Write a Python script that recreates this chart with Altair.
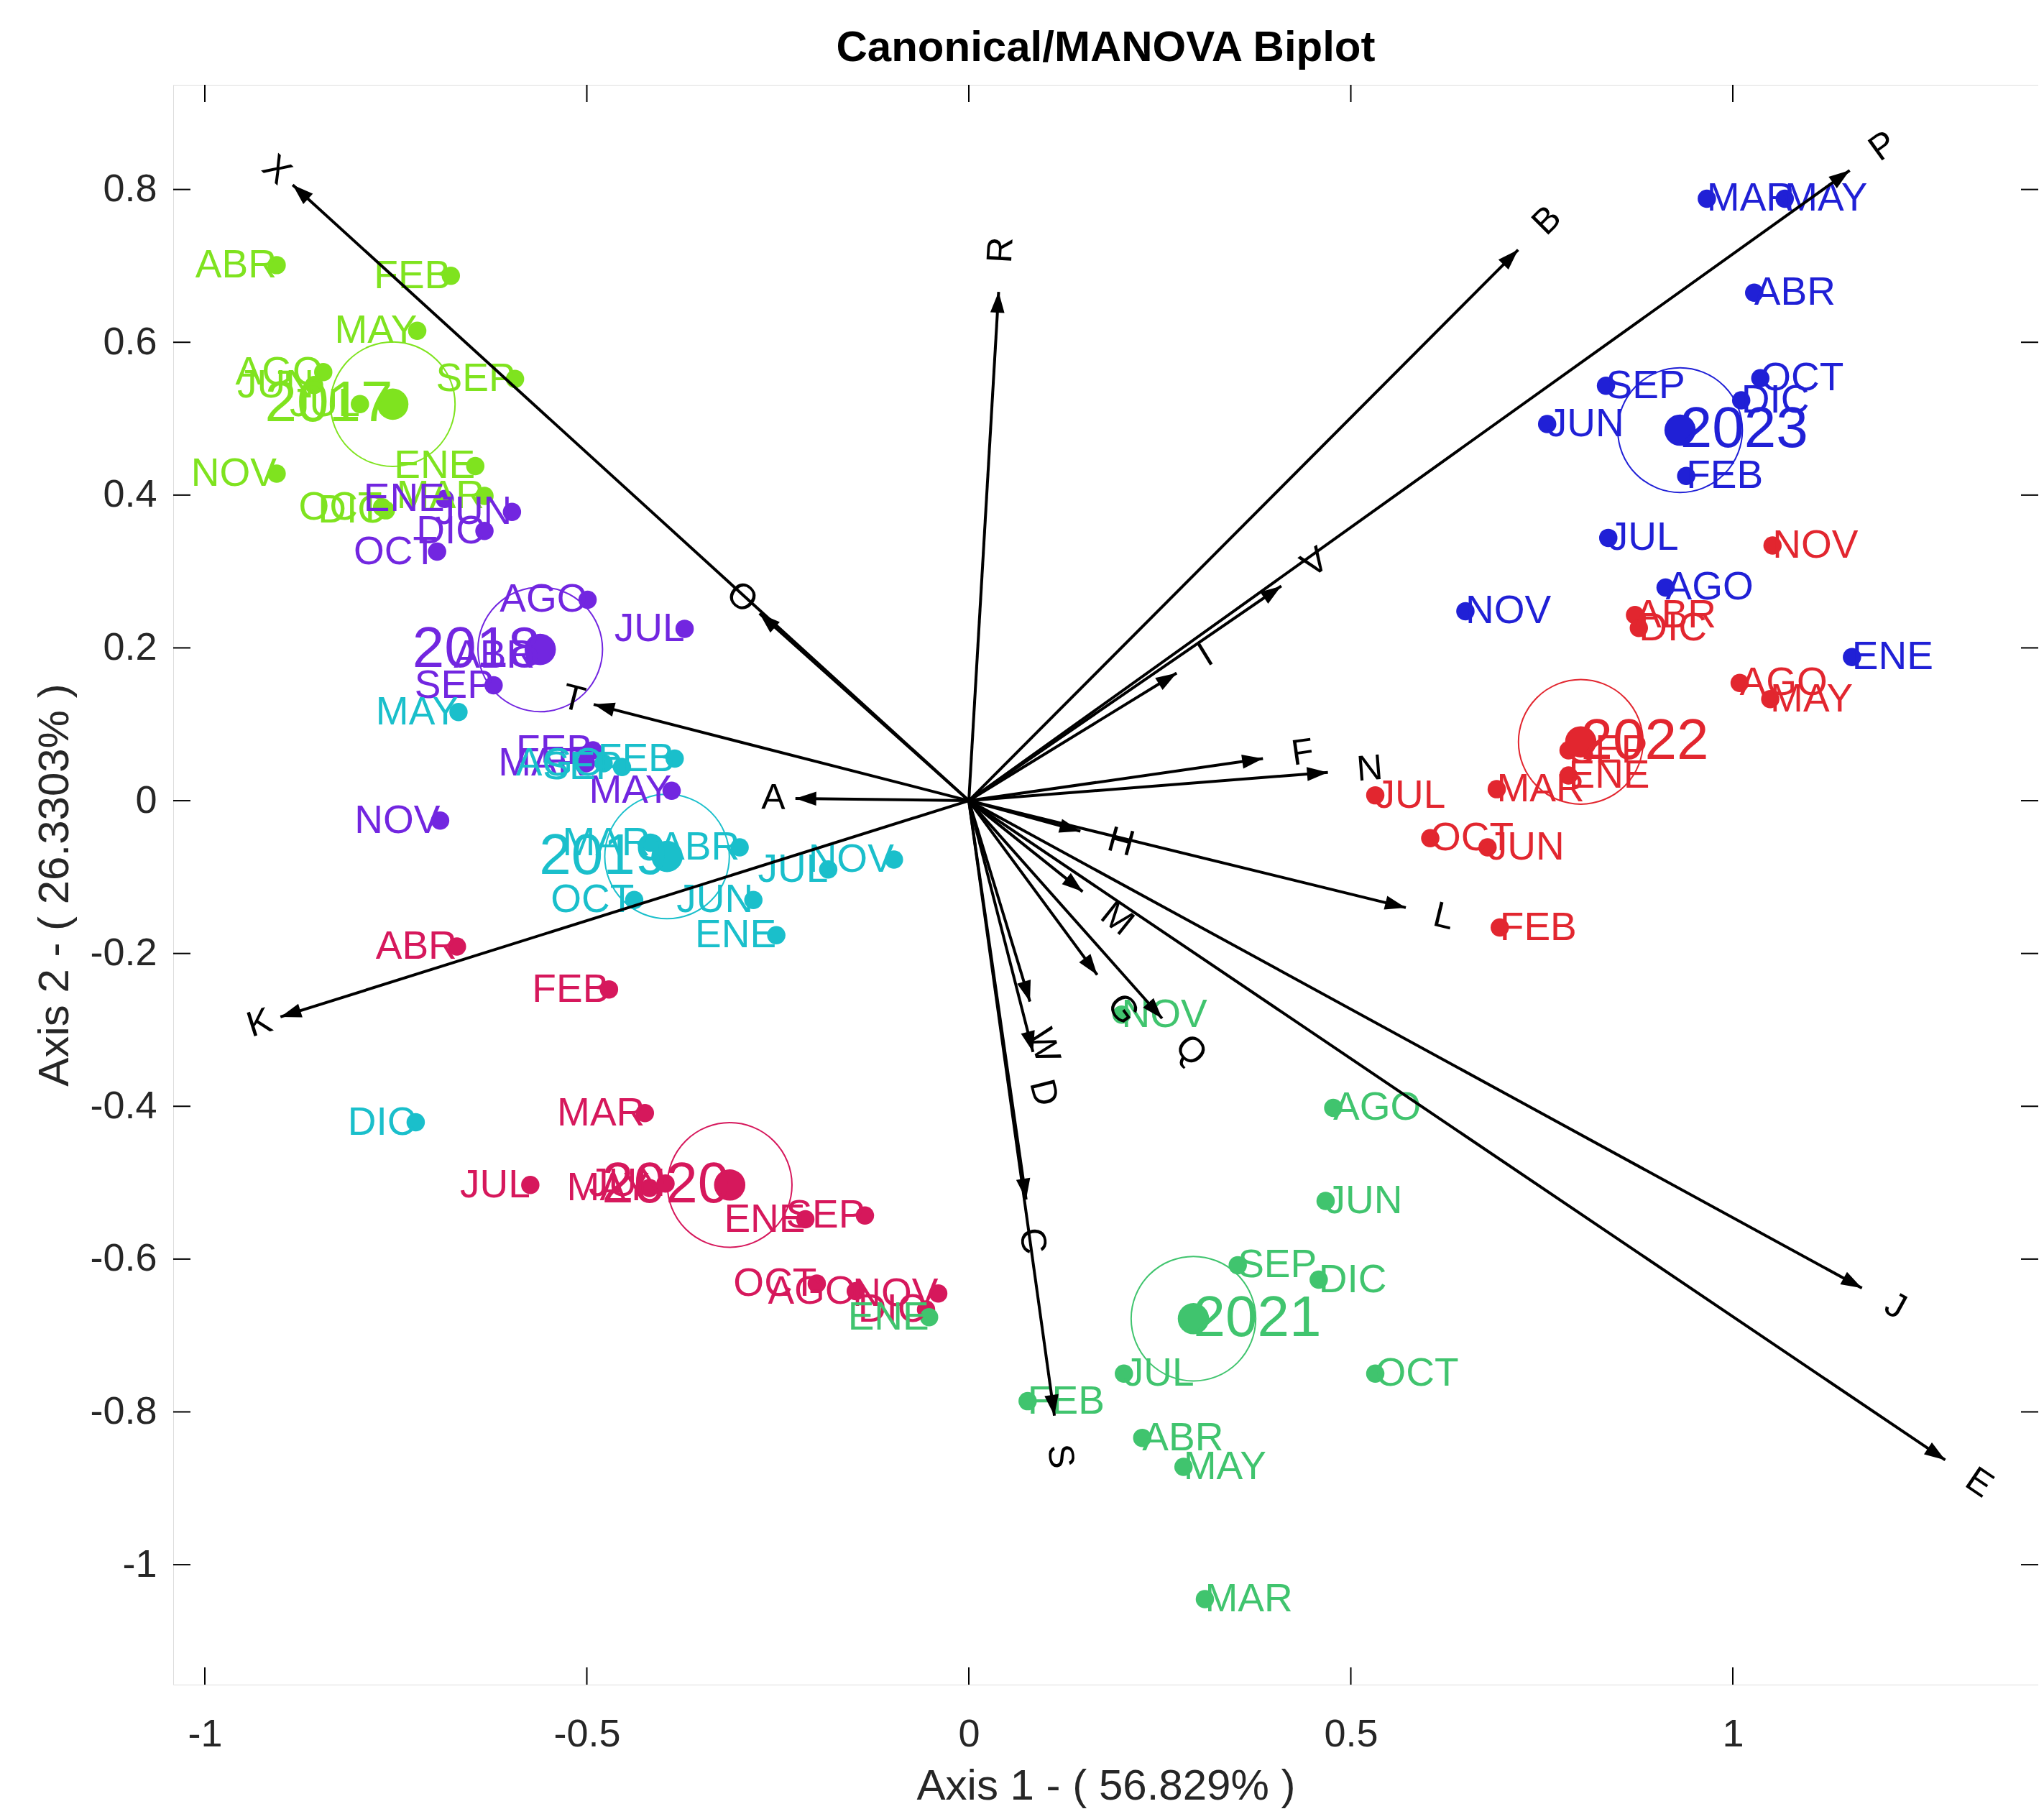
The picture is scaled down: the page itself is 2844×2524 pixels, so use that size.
import math
import altair as alt
import pandas as pd

# ---------------- data ----------------
MONTHS = ["ENE", "FEB", "MAR", "ABR", "MAY", "JUN", "JUL", "AGO", "SEP", "OCT", "NOV", "DIC"]
YEARS = ["2017", "2018", "2019", "2020", "2021", "2022", "2023"]
COLORS = ["#7FE31F", "#7226E0", "#1ABFCB", "#D6185C", "#40C46E", "#E2262F", "#2020D6"]

X_2017 = [-0.646, -0.678, -0.634, -0.906, -0.722, -0.857, -0.797, -0.845, -0.594, -0.768, -0.906, -0.763]
Y_2017 = [0.438, 0.687, 0.399, 0.701, 0.615, 0.544, 0.519, 0.561, 0.552, 0.384, 0.428, 0.380]
X_2018 = [-0.686, -0.492, -0.501, -0.568, -0.389, -0.598, -0.372, -0.499, -0.622, -0.696, -0.692, -0.634]
Y_2018 = [0.395, 0.066, 0.049, 0.190, 0.013, 0.378, 0.225, 0.263, 0.151, 0.326, -0.026, 0.353]
X_2019 = [-0.252, -0.385, -0.417, -0.300, -0.668, -0.282, -0.184, -0.478, -0.454, -0.438, -0.098, -0.724]
Y_2019 = [-0.176, 0.055, -0.055, -0.061, 0.116, -0.130, -0.090, 0.049, 0.044, -0.130, -0.077, -0.421]
X_2020 = [-0.214, -0.471, -0.424, -0.670, -0.418, -0.397, -0.574, -0.148, -0.136, -0.199, -0.040, -0.056]
Y_2020 = [-0.548, -0.247, -0.409, -0.191, -0.507, -0.501, -0.503, -0.642, -0.543, -0.632, -0.645, -0.666]
X_2021 = [-0.052, 0.077, 0.309, 0.227, 0.281, 0.467, 0.203, 0.477, 0.352, 0.532, 0.200, 0.458]
Y_2021 = [-0.676, -0.786, -1.045, -0.834, -0.872, -0.524, -0.750, -0.402, -0.608, -0.750, -0.280, -0.627]
X_2022 = [0.785, 0.695, 0.691, 0.872, 1.049, 0.679, 0.532, 1.009, 0.785, 0.604, 1.052, 0.877]
Y_2022 = [0.033, -0.166, 0.015, 0.243, 0.133, -0.061, 0.007, 0.154, 0.066, -0.049, 0.334, 0.226]
X_2023 = [1.156, 0.939, 0.966, 1.028, 1.068, 0.757, 0.837, 0.912, 0.834, 1.036, 0.650, 1.011]
Y_2023 = [0.188, 0.425, 0.788, 0.665, 0.788, 0.493, 0.344, 0.279, 0.543, 0.553, 0.248, 0.524]

CENTER_X = [-0.754, -0.561, -0.395, -0.313, 0.294, 0.801, 0.931]
CENTER_Y = [0.519, 0.198, -0.073, -0.503, -0.678, 0.077, 0.485]
CIRCLE_R = 0.092

VEC_NAMES = ["A", "B", "C", "D", "E", "F", "G", "H", "I", "J", "K", "L",
             "M", "N", "O", "P", "Q", "R", "S", "T", "V", "W", "X"]
VEC_X = [-0.227, 0.719, 0.075, 0.084, 1.278, 0.385, 0.168, 0.146, 0.272, 1.169, -0.901, 0.572,
         0.149, 0.470, -0.274, 1.153, 0.253, 0.039, 0.112, -0.491, 0.409, 0.080, -0.885]
VEC_Y = [0.003, 0.721, -0.522, -0.329, -0.863, 0.055, -0.228, -0.040, 0.167, -0.638, -0.283, -0.140,
         -0.119, 0.037, 0.245, 0.825, -0.285, 0.666, -0.805, 0.126, 0.281, -0.263, 0.806]

X_TICKS = [-1, -0.5, 0, 0.5, 1]
Y_TICKS = [-1, -0.8, -0.6, -0.4, -0.2, 0, 0.2, 0.4, 0.6, 0.8]

TITLE = "Canonical/MANOVA Biplot"
X_TITLE = "Axis 1 - ( 56.829% )"
Y_TITLE = "Axis 2 - ( 26.3303% )"

# ---------------- layout ----------------
XMIN, XMAX = -1.0414, 1.3998
YMIN, YMAX = -1.157, 0.937
W, H = 2595, 2226
FONT = "Liberation Sans"
TICK = 24

month_x = dict(zip(YEARS, [X_2017, X_2018, X_2019, X_2020, X_2021, X_2022, X_2023]))
month_y = dict(zip(YEARS, [Y_2017, Y_2018, Y_2019, Y_2020, Y_2021, Y_2022, Y_2023]))

rows = []
for yr in YEARS:
    for m, x, y in zip(MONTHS, month_x[yr], month_y[yr]):
        rows.append({"year": yr, "label": m, "x": x, "y": y})
months_df = pd.DataFrame(rows)
cent_df = pd.DataFrame({"year": YEARS, "label": YEARS, "x": CENTER_X, "y": CENTER_Y})

vrows = []
for n, x, y in zip(VEC_NAMES, VEC_X, VEC_Y):
    L = math.hypot(x, y)
    gap = 0.038 if x > 0 else 0.013
    vrows.append({
        "name": n, "x0": 0.0, "y0": 0.0, "x": x, "y": y,
        "head": (90 - math.degrees(math.atan2(y, x))) % 360,
        "lx": x + x / L * gap, "ly": y + y / L * gap,
        "lang": (-math.degrees(math.atan(y / x))) % 360,
    })
vec_df = pd.DataFrame(vrows)

XS = alt.Scale(domain=[XMIN, XMAX], nice=False, zero=False)
YS = alt.Scale(domain=[YMIN, YMAX], nice=False, zero=False)
FIX = "replace(datum.label, '\u2212', '-')"
XAX = alt.Axis(title=X_TITLE, values=X_TICKS, format="~g", labelExpr=FIX, grid=False,
               domain=False, ticks=False, tickSize=0, labelFont=FONT, labelFontSize=54,
               labelColor="#262626", labelPadding=42, labelFlush=False, labelOverlap=False,
               titleFont=FONT, titleFontSize=60, titleFontWeight="normal", titleColor="#262626",
               titleY=141, titleBaseline="middle")
YAX = alt.Axis(title=Y_TITLE, values=Y_TICKS, format="~g", labelExpr=FIX, grid=False,
               domain=False, ticks=False, tickSize=0, labelFont=FONT, labelFontSize=54,
               labelColor="#262626", labelPadding=23, labelFlush=False, labelOverlap=False,
               titleFont=FONT, titleFontSize=60, titleFontWeight="normal", titleColor="#262626",
               titleAngle=270, titleX=-165, titleY=H / 2, titleAlign="center",
               titleBaseline="middle")


def X(f):
    return alt.X(f, type="quantitative", scale=XS, axis=XAX)


def Y(f):
    return alt.Y(f, type="quantitative", scale=YS, axis=YAX)


COL = alt.Color("year:N", scale=alt.Scale(domain=YEARS, range=COLORS), legend=None)

px_per_unit = W / (XMAX - XMIN)
circle_size = math.pi * (CIRCLE_R * px_per_unit) ** 2

circles = alt.Chart(cent_df).mark_point(shape="circle", filled=False, size=circle_size,
                                        strokeWidth=2, opacity=1).encode(x=X("x"), y=Y("y"), color=COL)
dots = alt.Chart(months_df).mark_circle(size=650, opacity=1).encode(x=X("x"), y=Y("y"), color=COL)
cdots = alt.Chart(cent_df).mark_circle(size=1900, opacity=1).encode(x=X("x"), y=Y("y"), color=COL)

MFS, YFS = 55, 80
mlab_r = alt.Chart(months_df).transform_filter("datum.x <= 0").mark_text(
    align="right", baseline="middle", font=FONT, fontSize=MFS).encode(
    x=X("x"), y=Y("y"), text="label:N", color=COL)
mlab_l = alt.Chart(months_df).transform_filter("datum.x > 0").mark_text(
    align="left", baseline="middle", font=FONT, fontSize=MFS).encode(
    x=X("x"), y=Y("y"), text="label:N", color=COL)
ylab_r = alt.Chart(cent_df).transform_filter("datum.x <= 0").mark_text(
    align="right", baseline="middle", font=FONT, fontSize=YFS).encode(
    x=X("x"), y=Y("y"), text="label:N", color=COL)
ylab_l = alt.Chart(cent_df).transform_filter("datum.x > 0").mark_text(
    align="left", baseline="middle", font=FONT, fontSize=YFS).encode(
    x=X("x"), y=Y("y"), text="label:N", color=COL)

vlines = alt.Chart(vec_df).mark_rule(color="black", strokeWidth=4).encode(
    x=X("x0"), y=Y("y0"), x2="x:Q", y2="y:Q")
heads = alt.Chart(vec_df).mark_point(shape="M0,0L-0.34,1L0.34,1Z", filled=True, size=3364,
                                     color="black", opacity=1, strokeWidth=0).encode(
    x=X("x"), y=Y("y"), angle=alt.Angle("head:Q", scale=None))
vlab_l = alt.Chart(vec_df).transform_filter("datum.x > 0").mark_text(
    align="left", baseline="middle", font=FONT, fontSize=50, color="black").encode(
    x=X("lx"), y=Y("ly"), text="name:N", angle=alt.Angle("lang:Q", scale=None))
vlab_r = alt.Chart(vec_df).transform_filter("datum.x <= 0").mark_text(
    align="right", baseline="middle", font=FONT, fontSize=50, color="black").encode(
    x=X("lx"), y=Y("ly"), text="name:N", angle=alt.Angle("lang:Q", scale=None))

xt = pd.DataFrame({"v": X_TICKS})
yt = pd.DataFrame({"v": Y_TICKS})
tb = alt.Chart(xt).mark_rule(color="black", strokeWidth=2).encode(
    x=X("v"), y=alt.value(H), y2=alt.value(H - TICK))
tt = alt.Chart(xt).mark_rule(color="black", strokeWidth=2).encode(
    x=X("v"), y=alt.value(0), y2=alt.value(TICK))
tl = alt.Chart(yt).mark_rule(color="black", strokeWidth=2).encode(
    y=Y("v"), x=alt.value(0), x2=alt.value(TICK))
tr = alt.Chart(yt).mark_rule(color="black", strokeWidth=2).encode(
    y=Y("v"), x=alt.value(W), x2=alt.value(W - TICK))

title_df = pd.DataFrame({"t": [TITLE]})
title = alt.Chart(title_df).mark_text(
    font=FONT, fontSize=60, fontWeight="bold", color="black", align="center",
    baseline="alphabetic").encode(text="t:N", x=alt.value(W / 2), y=alt.value(-33))

chart = alt.layer(
    tb, tt, tl, tr,
    circles, dots, mlab_r, mlab_l, cdots, ylab_r, ylab_l,
    vlines, heads, vlab_l, vlab_r, title,
).properties(
    width=W, height=H,
    autosize=alt.AutoSizeParams(type="none"),
    padding={"left": 233, "top": 110, "right": 0, "bottom": 172},
).configure_view(stroke="black", strokeWidth=3).configure(background="white")

chart.save("out.html", embed_options={"renderer": "svg", "actions": False})
